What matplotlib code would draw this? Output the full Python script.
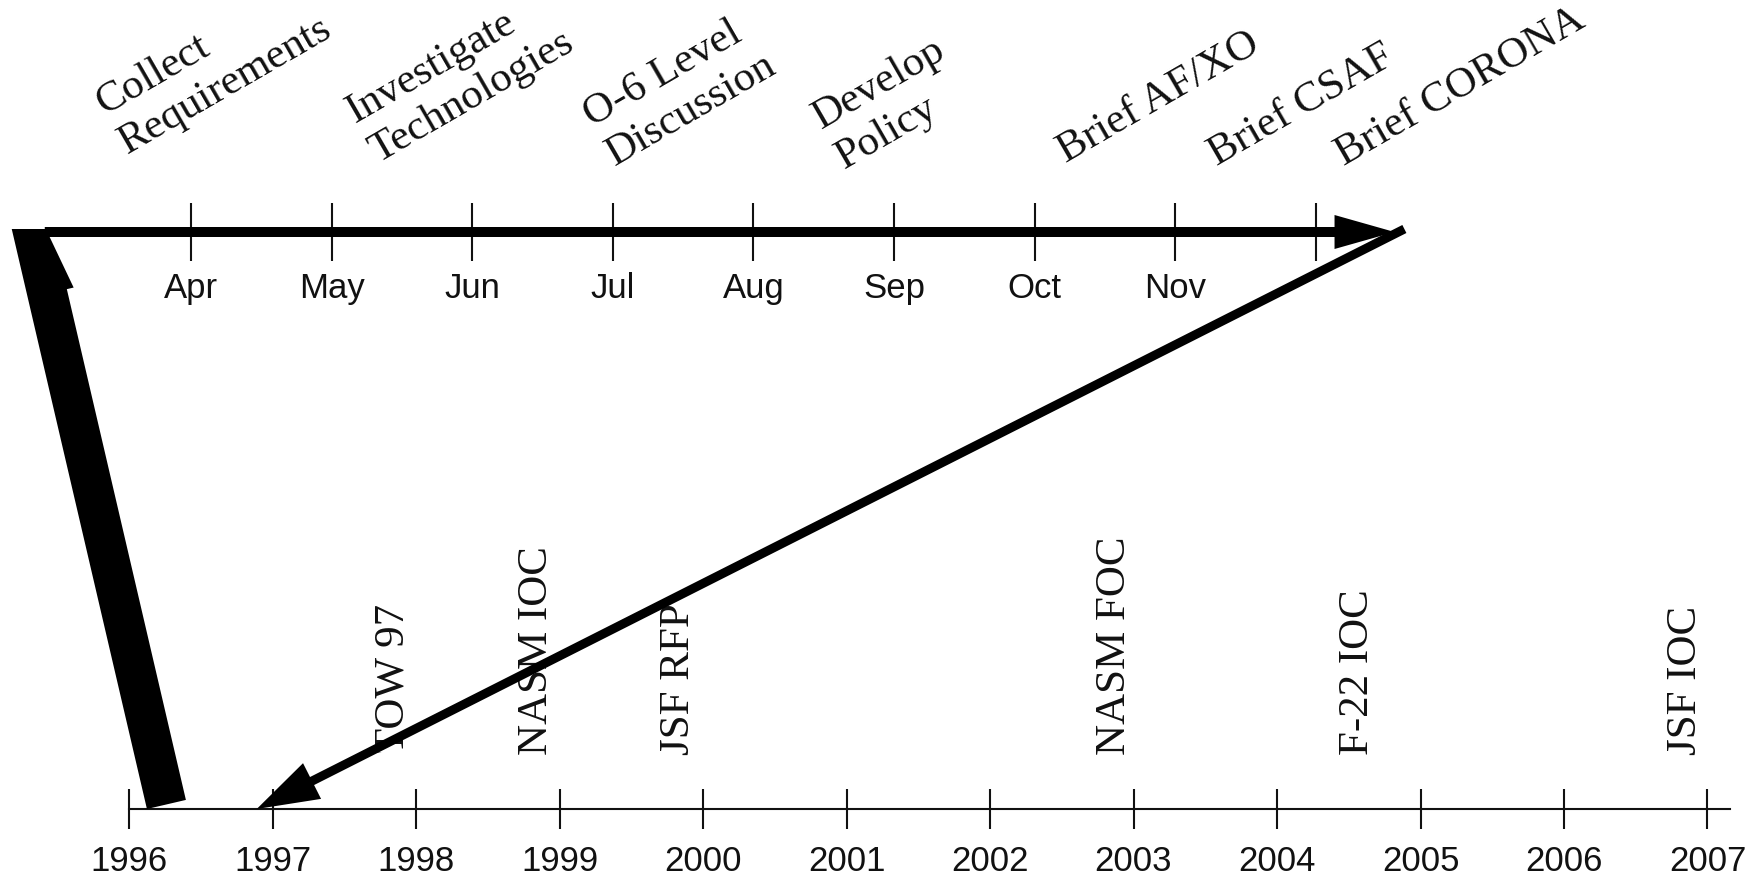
import matplotlib
matplotlib.use('Agg')
import matplotlib.pyplot as plt
from matplotlib.patches import FancyArrow
from matplotlib.transforms import Bbox, TransformedBbox
import numpy as np

plt.rcParams['font.family'] = 'Liberation Sans'

# month line (top)
months = ['Apr', 'May', 'Jun', 'Jul', 'Aug', 'Sep', 'Oct', 'Nov', '']
month_pos = [4, 5, 6, 7, 8, 9, 10, 11, 12]

tasks = ['Collect\nRequirements', 'Investigate\nTechnologies', 'O-6 Level\nDiscussion',
         'Develop\nPolicy', 'Brief AF/XO', 'Brief CSAF', 'Brief CORONA']
task_month = [3.52, 5.30, 6.99, 8.62, 10.22, 11.30, 12.20]

# year line (bottom)
years = list(range(1996, 2008))
milestones = ['STOW 97', 'NASM IOC', 'JSF RFP', 'NASM FOC', 'F-22 IOC', 'JSF IOC']
milestone_year = [1997.84, 1998.84, 1999.83, 2002.87, 2004.56, 2006.85]

# the loop of arrows
month_start, month_end = 2.96, 12.56      # month line arrow
drop_from, drop_to = 12.63, 1996.89       # diagonal arrow, month -> year
climb_from, climb_to = 1996.125, 2.73     # thick arrow, year -> month
year_end = 2007.16

W, H = 1759, 876
fig = plt.figure(figsize=(W / 100, H / 100), dpi=100)
fig.patch.set_facecolor('white')

# both timelines use axes spanning the whole figure, y measured in px from the line
TOP_Y, BOT_Y = 232, 809
ax_top = fig.add_axes([0, 0, 1, 1], label='months')
ax_top.set_xlim(4 - 191 / 140.6, 4 + (W - 191) / 140.6)
ax_top.set_ylim(TOP_Y - H, TOP_Y)

ax_bot = fig.add_axes([0, 0, 1, 1], label='years')
ax_bot.set_xlim(1996 - 129 / 143.5, 1996 + (W - 129) / 143.5)
ax_bot.set_ylim(BOT_Y - H, BOT_Y)

for ax in (ax_top, ax_bot):
    ax.patch.set_visible(False)
    for s in ['left', 'right', 'top']:
        ax.spines[s].set_visible(False)
    ax.spines['bottom'].set_position(('data', 0))
    ax.set_yticks([])

ax_top.spines['bottom'].set_visible(False)
ax_top.set_xticks(month_pos, months)
ax_top.tick_params(axis='x', direction='inout', length=42, width=1.5, pad=8,
                   labelsize=25, color='#111111', labelcolor='#111111')

ax_bot.spines['bottom'].set_bounds(1996, year_end)
ax_bot.spines['bottom'].set_linewidth(1.5)
ax_bot.spines['bottom'].set_color('#111111')
ax_bot.set_xticks(years, [str(y) for y in years])
ax_bot.tick_params(axis='x', direction='inout', length=29.5, width=1.5, pad=11,
                   labelsize=25, color='#111111', labelcolor='#111111')

serif = 'Liberation Serif'
# baseline of the last line, px above the month line
task_lift = [84, 75, 72, 69, 69, 66, 66]
for lab, m, h in zip(tasks, task_month, task_lift):
    ax_top.text(m, h, lab, rotation=30, rotation_mode='anchor', ha='left',
                va='baseline', fontsize=31, family=serif, linespacing=1.25,
                color='#111111')

for lab, yr in zip(milestones, milestone_year):
    if lab == 'STOW 97':
        # the leading S is hidden in the original, only "TOW 97" shows
        t = ax_bot.text(yr, 31, lab, rotation=90, ha='center', va='bottom',
                        fontsize=31, family=serif, color='#111111')
        t.set_clip_box(TransformedBbox(Bbox([[yr - 1, 56], [yr + 1, BOT_Y]]),
                                       ax_bot.transData))
        t.set_clip_on(True)
    else:
        ax_bot.text(yr, 54, lab, rotation=90, ha='center', va='bottom',
                    fontsize=31, family=serif, color='#111111')

# arrows drawn in a px-based overlay; its top edge clips the thick arrow's tip
ax_arr = fig.add_axes([0, 0, 1, (H - 229) / H], label='arrows')
ax_arr.set_xlim(0, W)
ax_arr.set_ylim(0, H - 229)
ax_arr.axis('off')


def to_px(ax, x, y=0):
    return ax_arr.transData.inverted().transform(ax.transData.transform((x, y)))


p0, p1 = to_px(ax_top, month_start), to_px(ax_top, month_end)
ax_arr.add_patch(FancyArrow(p0[0], p0[1], p1[0] - p0[0], p1[1] - p0[1], width=10,
                            head_width=34, head_length=60, length_includes_head=True,
                            color='black', lw=0, clip_on=False))

p0, p1 = to_px(ax_top, drop_from, 3), to_px(ax_bot, drop_to)
ax_arr.add_patch(FancyArrow(p0[0], p0[1], p1[0] - p0[0], p1[1] - p0[1], width=9,
                            head_width=40, head_length=62, length_includes_head=True,
                            color='black', lw=0, clip_on=False))

p0, p1 = to_px(ax_bot, climb_from), to_px(ax_top, climb_to)
d = p1 - p0
tip = p1 + d / np.hypot(*d) * 148
ax_arr.add_patch(FancyArrow(p0[0], p0[1], tip[0] - p0[0], tip[1] - p0[1], width=80,
                            head_width=94, head_length=216, shape='left',
                            length_includes_head=True, color='black', lw=0))

fig.savefig('out.png', dpi=100, facecolor='white')
